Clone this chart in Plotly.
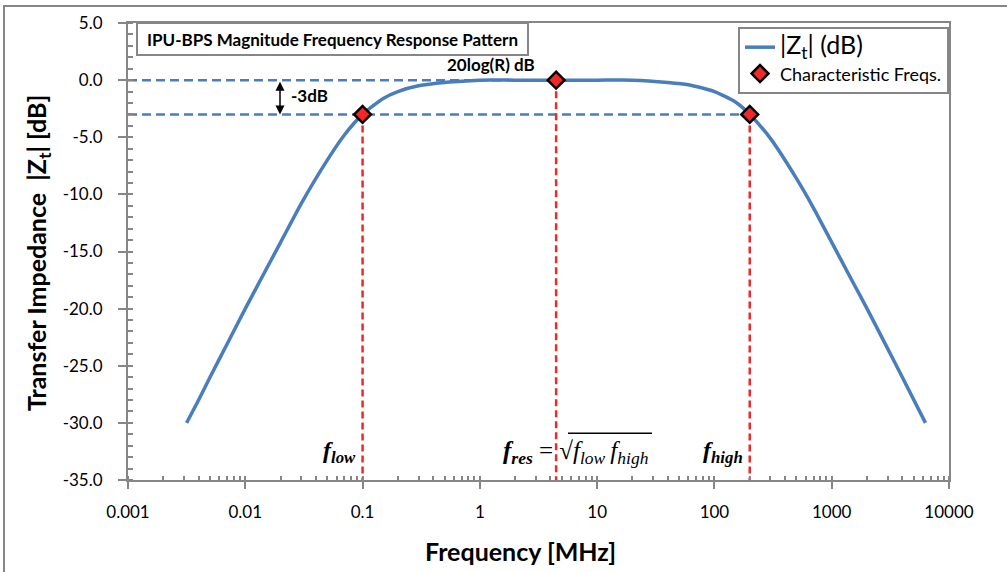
import math
import plotly.graph_objects as go

# ---------------- data ----------------
freq_mhz = [0.00316, 0.004, 0.005, 0.007, 0.01, 0.015, 0.02, 0.03, 0.05, 0.07,
            0.1, 0.15, 0.2, 0.3, 0.5, 0.7, 1, 2, 4.47, 10, 20, 40, 60, 100,
            150, 200, 300, 500, 700, 1000, 1500, 2000, 3000, 4000, 6300]
zt_db = [-30.0, -28.0, -26.0, -23.1, -20.0, -16.6, -14.2, -10.8, -7.0, -4.8,
         -3.0, -1.6, -1.0, -0.5, -0.2, -0.1, 0.0, 0.0, 0.0, 0.0, 0.0, -0.2, -0.4, -1.0,
         -1.9, -3.0, -5.1, -8.6, -11.2, -14.2, -17.6, -20.0, -23.5, -26.0, -30.0]

char_names = ["f_low", "f_res", "f_high"]
char_freq = [0.1, 4.47, 200]
char_db = [-3.0, 0.0, -3.0]

x_tick_vals = [0.001, 0.01, 0.1, 1, 10, 100, 1000, 10000]
x_tick_text = ["0.001", "0.01", "0.1", "1", "10", "100", "1000", "10000"]
y_tick_vals = [5, 0, -5, -10, -15, -20, -25, -30, -35]
y_tick_text = ["5.0", "0.0", "-5.0", "-10.0", "-15.0", "-20.0", "-25.0", "-30.0", "-35.0"]
y_min, y_max = -35.0, 5.0
x_min, x_max = 0.001, 10000

# ---------------- style ----------------
BLUE = "#4A7EBB"
RED = "#F0282A"
GRAY = "#868686"
FONT = "Lato"
SERIF = "Liberation Serif"

# plot-area pixel geometry (for paper-coordinate decorations)
L, R, T, B = 128, 949, 21, 480
W, H = 1007, 572


def px(x):
    return (x - L) / (R - L)


def py(y):
    return (B - y) / (B - T)


fig = go.Figure()

# blue dashed horizontal guides (0 dB and -3 dB)
fig.add_trace(go.Scatter(x=[x_min, char_freq[1]], y=[char_db[1], char_db[1]],
                         mode="lines", line=dict(color=BLUE, width=2.5, dash="9px,5px"),
                         showlegend=False, hoverinfo="skip"))
fig.add_trace(go.Scatter(x=[x_min, char_freq[2]], y=[char_db[0], char_db[0]],
                         mode="lines", line=dict(color=BLUE, width=2.5, dash="9px,5px"),
                         showlegend=False, hoverinfo="skip"))
# red dashed verticals
for f, d in zip(char_freq, char_db):
    fig.add_trace(go.Scatter(x=[f, f], y=[d, y_min], mode="lines",
                             line=dict(color=RED, width=2.5, dash="7px,4px"),
                             showlegend=False, hoverinfo="skip"))

# main curve
fig.add_trace(go.Scatter(x=freq_mhz, y=zt_db, mode="lines",
                         line=dict(color=BLUE, width=3.5, shape="spline", smoothing=0.6),
                         name='<span style="font-size:25px">|Z<sub>t</sub>| (dB)</span>'))
# characteristic frequencies
fig.add_trace(go.Scatter(x=char_freq, y=char_db, mode="markers",
                         marker=dict(symbol="diamond", size=13, color=RED,
                                     line=dict(color="black", width=2.5)),
                         name="Characteristic Freqs."))

axis_common = dict(showline=True, linecolor=GRAY, linewidth=2, mirror=True,
                   ticks="outside", tickcolor=GRAY, tickwidth=2,
                   tickfont=dict(family=FONT, size=17, color="black"),
                   showgrid=False, zeroline=False)

fig.update_layout(
    width=W, height=H,
    margin=dict(l=L, r=W - R, t=T, b=H - B),
    paper_bgcolor="white", plot_bgcolor="white",
    font=dict(family=FONT, color="black"),
    xaxis=dict(type="log", range=[math.log10(x_min), math.log10(x_max)],
               tickmode="array", tickvals=x_tick_vals, ticktext=x_tick_text,
               ticklen=7, ticklabelstandoff=9,
               minor=dict(ticks="inside", ticklen=4, tickcolor=GRAY, tickwidth=2,
                          dtick="D1", showgrid=False),
               **axis_common),
    yaxis=dict(range=[y_min, y_max], tickmode="array",
               tickvals=y_tick_vals, ticktext=y_tick_text,
               ticklen=8, ticklabelstandoff=12,
               minor=dict(ticks="inside", ticklen=5, tickcolor=GRAY, tickwidth=2,
                          dtick=1, tick0=0, showgrid=False),
               **axis_common),
    legend=dict(x=1.0, xanchor="right", y=py(25), yanchor="top",
                bgcolor="white", bordercolor=GRAY, borderwidth=2,
                font=dict(family=FONT, size=18, color="black"),
                tracegroupgap=0),
    showlegend=True,
)

ann = []
# chart title box
ann.append(dict(xref="paper", yref="paper", x=px(136), y=py(37), xanchor="left", yanchor="middle",
                text="<b>IPU-BPS Magnitude Frequency Response Pattern</b>",
                font=dict(family=FONT, size=17, color="black"), showarrow=False,
                bgcolor="white", bordercolor=GRAY, borderwidth=2, borderpad=2,
                width=385, height=26, align="center"))
# axis titles
ann.append(dict(xref="paper", yref="paper", x=px(520), y=py(551), xanchor="center", yanchor="middle",
                text="<b>Frequency [MHz]</b>", font=dict(family=FONT, size=25, color="black"),
                showarrow=False))
ann.append(dict(xref="paper", yref="paper", x=px(38), y=py(252), xanchor="center", yanchor="middle",
                text="<b>Transfer Impedance\u00a0\u00a0|Z<sub>t</sub>| [dB]</b>", textangle=-90,
                font=dict(family=FONT, size=25, color="black"), showarrow=False))
# labels
ann.append(dict(xref="paper", yref="paper", x=px(491), y=py(63), xanchor="center", yanchor="middle",
                text="<b>20log(R) dB</b>", font=dict(family=FONT, size=17, color="black"),
                showarrow=False))
ann.append(dict(xref="paper", yref="paper", x=px(289), y=py(94), xanchor="left", yanchor="middle",
                text="<b>-3dB</b>", font=dict(family=FONT, size=17, color="black"),
                showarrow=False))
# -3dB double arrow
arrow_x = -3 + (280 - L) / ((R - L) / 7)
ann.append(dict(xref="x", yref="y", x=arrow_x, y=char_db[0], axref="x", ayref="y",
                ax=arrow_x, ay=char_db[1], text="", showarrow=True,
                arrowside="end+start", arrowhead=2, arrowsize=1.2, arrowwidth=1.5,
                arrowcolor="black", standoff=0, startstandoff=0))
# frequency labels
ann.append(dict(xref="paper", yref="paper", x=px(358), y=py(452), xanchor="right", yanchor="middle",
                text="<b><i>f</i></b><sub><b><i>low</i></b></sub>",
                font=dict(family=SERIF, size=24, color="black"), showarrow=False))
ann.append(dict(xref="paper", yref="paper", x=px(745), y=py(452), xanchor="right", yanchor="middle",
                text="<b><i>f</i></b><sub><b><i>high</i></b></sub>",
                font=dict(family=SERIF, size=24, color="black"), showarrow=False))
ann.append(dict(xref="paper", yref="paper", x=px(501), y=py(452), xanchor="left", yanchor="middle",
                text="<b><i>f</i></b><sub><b><i>res</i></b></sub> = \u221a<i>f</i><sub><i>low</i></sub>\u2009<i>f</i><sub><i>high</i></sub>",
                font=dict(family=SERIF, size=25, color="black"), showarrow=False))
fig.update_layout(annotations=ann)

# sqrt overline and outer frame (decorations)
fig.add_shape(type="line", xref="paper", yref="paper", x0=px(568), x1=px(652),
              y0=py(433), y1=py(433), line=dict(color="black", width=1.5))
fig.add_shape(type="rect", xref="paper", yref="paper", x0=px(4), x1=px(1030),
              y0=py(4), y1=py(600), line=dict(color=GRAY, width=2), layer="below")

fig.write_html("out.html", config={"displayModeBar": False})
